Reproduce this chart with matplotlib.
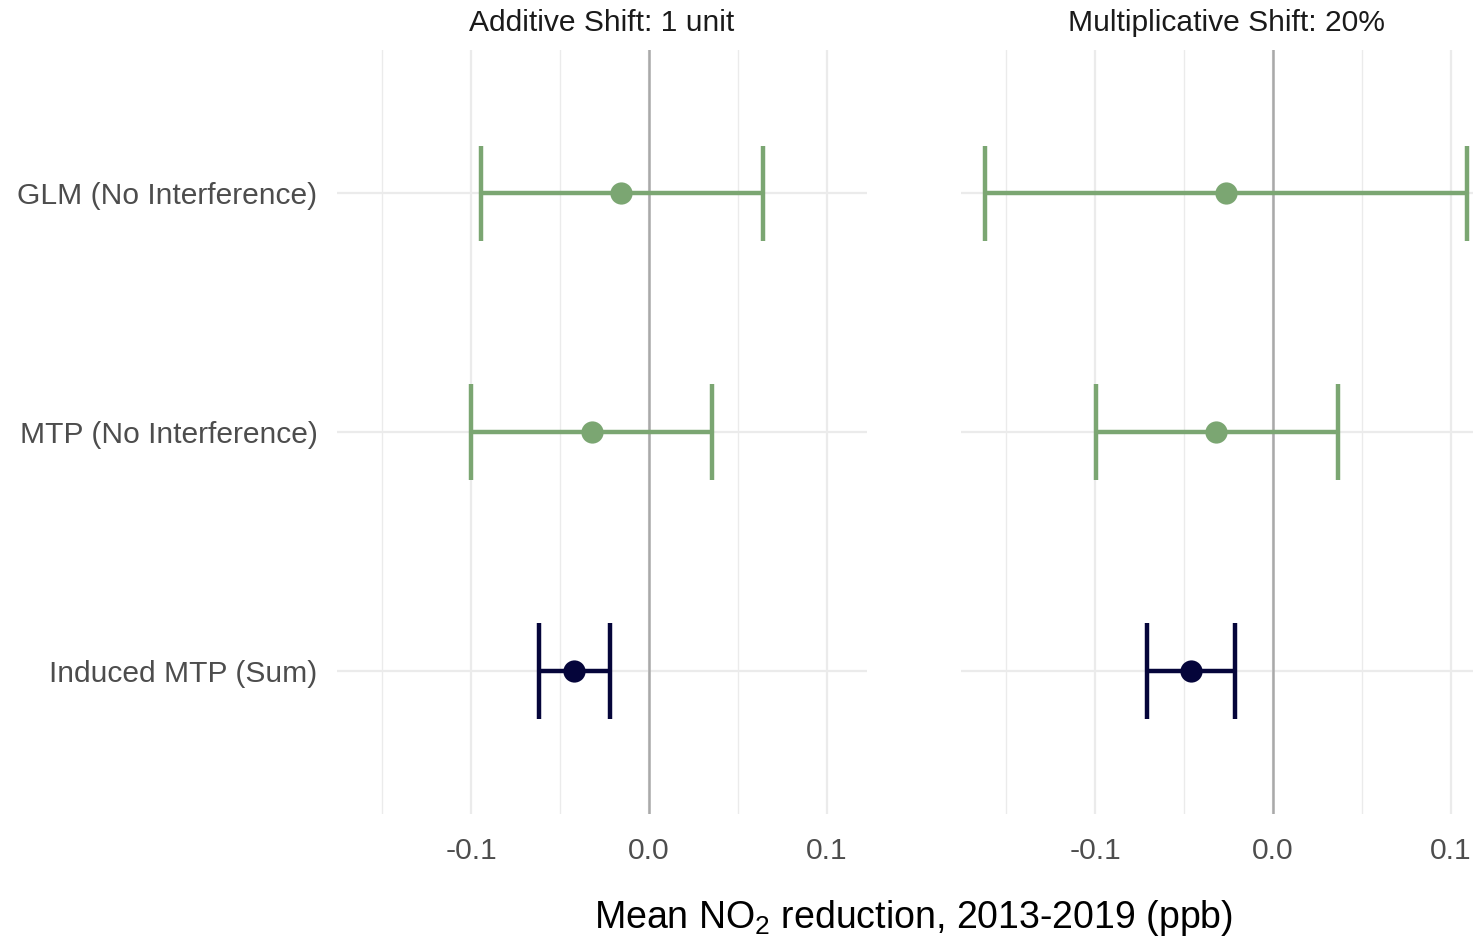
import matplotlib
matplotlib.use("Agg")
import matplotlib.pyplot as plt
import numpy as np

plt.rcParams["font.family"] = ["Liberation Sans", "DejaVu Sans"]
plt.rcParams["mathtext.fontset"] = "custom"
plt.rcParams["mathtext.rm"] = "Liberation Sans"
plt.rcParams["axes.unicode_minus"] = False

# data
panels = ["Additive Shift: 1 unit", "Multiplicative Shift: 20%"]
methods = ["GLM (No Interference)", "MTP (No Interference)", "Induced MTP (Sum)"]
method_colors = ["#7ba672", "#7ba672", "#05053a"]

estimate = {
    "Additive Shift: 1 unit": [-0.0157, -0.0320, -0.0420],
    "Multiplicative Shift: 20%": [-0.0264, -0.0320, -0.0460],
}
lower = {
    "Additive Shift: 1 unit": [-0.0945, -0.1000, -0.0620],
    "Multiplicative Shift: 20%": [-0.1620, -0.0996, -0.0709],
}
upper = {
    "Additive Shift: 1 unit": [0.0641, 0.0354, -0.0220],
    "Multiplicative Shift: 20%": [0.1089, 0.0366, -0.0214],
}

x_major = [-0.1, 0.0, 0.1]
x_major_labels = ["-0.1", "0.0", "0.1"]
x_minor = [-0.15, -0.05, 0.05]
x_limits = (-0.1755, 0.1225)

W, H = 1473, 940
fig = plt.figure(figsize=(W / 100, H / 100), dpi=100)
fig.patch.set_facecolor("white")

# right facet runs past the figure edge, as in the original
panel_left = [337, 961]
panel_width = 530
panel_top, panel_bottom = 50, 814

y_pos = np.array([3, 2, 1])
grid_color = "#ebebeb"
small = 21.6

for i, name in enumerate(panels):
    ax = fig.add_axes([
        panel_left[i] / W,
        (H - panel_bottom) / H,
        panel_width / W,
        (panel_bottom - panel_top) / H,
    ])
    ax.set_facecolor("white")
    for s in ax.spines.values():
        s.set_visible(False)

    ax.set_xlim(*x_limits)
    ax.set_ylim(0.4, 3.6)

    for xv in x_minor:
        ax.axvline(xv, color=grid_color, linewidth=1.0, zorder=0)
    for xv in x_major:
        ax.axvline(xv, color=grid_color, linewidth=1.6, zorder=0)
    for yv in y_pos:
        ax.axhline(yv, color=grid_color, linewidth=1.6, zorder=0)

    ax.axvline(0.0, color="#a9a9a9", linewidth=1.8, zorder=1)

    est = estimate[name]
    lo = lower[name]
    hi = upper[name]
    for j in range(len(methods)):
        c = method_colors[j]
        ax.hlines(y_pos[j], lo[j], hi[j], color=c, linewidth=3.2, zorder=2)
        ax.vlines([lo[j], hi[j]], y_pos[j] - 0.2, y_pos[j] + 0.2,
                  color=c, linewidth=3.2, zorder=2)
        ax.plot(est[j], y_pos[j], "o", color=c, markersize=16,
                markeredgewidth=0, zorder=3)

    ax.set_xticks(x_major)
    ax.set_xticklabels(x_major_labels)
    ax.tick_params(axis="x", length=0, pad=16.5, labelsize=small, labelcolor="#4d4d4d")
    ax.set_yticks(y_pos)
    if i == 0:
        ax.set_yticklabels(methods)
        ax.tick_params(axis="y", length=0, pad=14, labelsize=small, labelcolor="#4d4d4d")
    else:
        ax.set_yticklabels([])
        ax.tick_params(axis="y", length=0)

    fig.text((panel_left[i] + panel_width / 2) / W, 1 - 23 / H, name,
             ha="center", va="center", fontsize=small, color="#1a1a1a")

fig.text((panel_left[0] + panel_left[1] + panel_width) / 2 / W, 1 - 918 / H,
         "Mean NO$_2$ reduction, 2013-2019 (ppb)",
         ha="center", va="center", fontsize=27, color="black")

fig.savefig("out.png", dpi=100)
